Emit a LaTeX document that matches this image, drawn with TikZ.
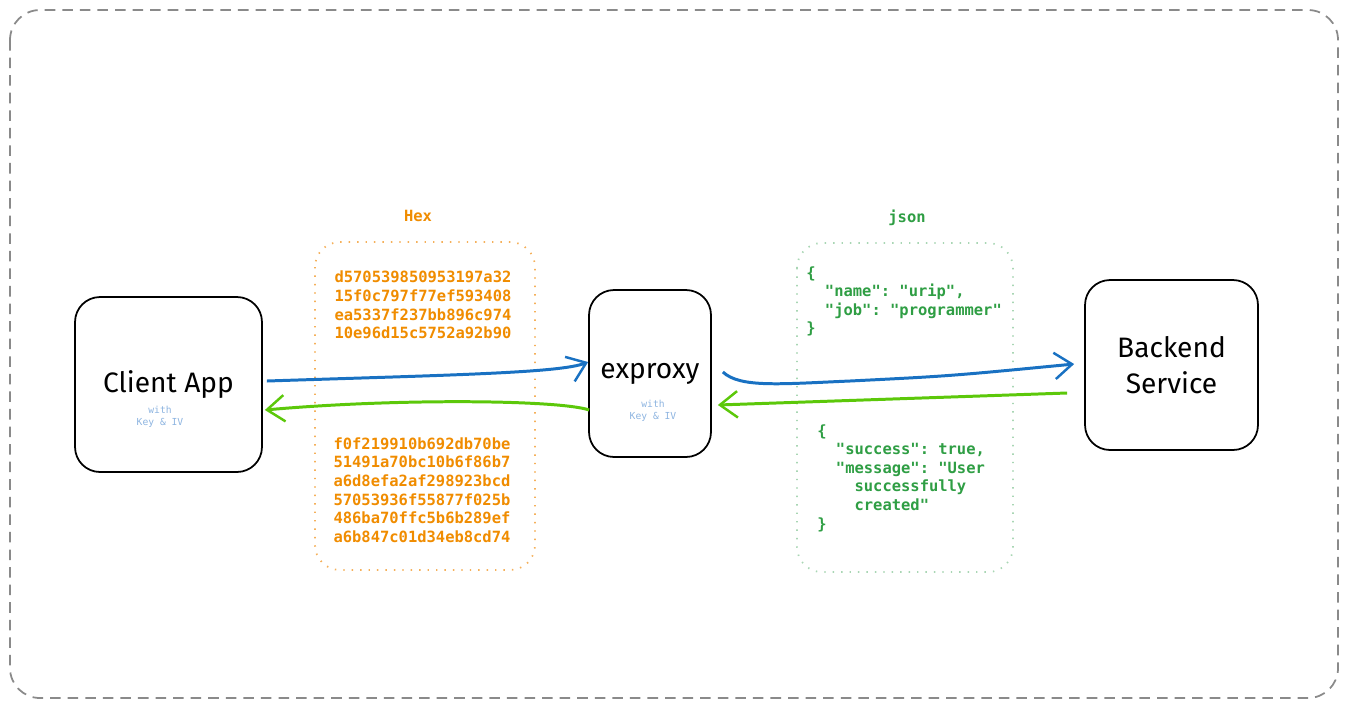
\documentclass[tikz,border=0pt]{standalone}
\usepackage{fontspec}
\setmainfont{Fira Sans}
\setmonofont{DejaVu Sans Mono}
\usepackage{xcolor}
\usepackage{tikz}
\usetikzlibrary{positioning,arrows.meta}
\definecolor{reqblue}{HTML}{1971C2}
\definecolor{resgreen}{HTML}{5CC80A}
\definecolor{hexorange}{HTML}{F08C00}
\definecolor{hexframe}{HTML}{F5B05A}
\definecolor{jsongreen}{HTML}{2F9E44}
\definecolor{jsonframe}{HTML}{A9D6B4}
\definecolor{keyblue}{HTML}{8DB4E0}
\definecolor{framegray}{HTML}{8A8A8A}

\begin{document}
\begin{tikzpicture}[x=0.02cm, y=-0.02cm,
	box/.style={rectangle, draw, line width=1pt, rounded corners=0.5cm, align=center, font=\fontsize{16}{20.5}\selectfont},
	keynote/.style={font=\ttfamily\fontsize{5.5}{7}\selectfont, text=keyblue, align=center},
	payload/.style={font=\ttfamily\bfseries\fontsize{8.8}{10.6}\selectfont, align=left, inner sep=0pt},
	frame/.style={line width=1pt, dash pattern=on 0.8pt off 4pt, rounded corners=0.5cm},
	req/.style={draw=reqblue, line width=1.7pt, -{Straight Barb[length=10pt, width=15pt, line width=1.4pt]}},
	res/.style={draw=resgreen, line width=1.7pt, -{Straight Barb[length=10pt, width=15pt, line width=1.4pt]}}]
	\useasboundingbox (0,0) rectangle (1348,708);
	\draw[framegray, line width=1pt, dash pattern=on 6pt off 4pt, rounded corners=0.6cm] (10,10) rectangle (1338,698);

	% payload frames
	\draw[frame, hexframe] (315,242) rectangle (535,570);
	\draw[frame, jsonframe] (797,243) rectangle (1013,572);
	\node[payload, text=hexorange] (hexlabel) at (418,216) {Hex};
	\node[payload, text=jsongreen] (jsonlabel) at (907,218) {json};

	% parties
	\node[box, minimum width=3.74cm, minimum height=3.5cm] (client) at (168.5,384.5) {Client App};
	\node[box, minimum width=2.44cm, minimum height=3.34cm] (proxy) at (650,373.5) {exproxy};
	\node[box, minimum width=3.46cm, minimum height=3.4cm] (backend) at (1171.5,365) {Backend\\Service};
	\node[keynote] (clientkey) at (160,417) {with\\Key \& IV};
	\node[keynote] (proxykey) at (653,411) {with\\Key \& IV};

	% payloads
	\node[payload, text=hexorange] (hexreq) at (423,305) {d570539850953197a32\\15f0c797f77ef593408\\ea5337f237bb896c974\\10e96d15c5752a92b90};
	\node[payload, text=hexorange] (hexres) at (422,490) {f0f219910b692db70be\\51491a70bc10b6f86b7\\a6d8efa2af298923bcd\\57053936f55877f025b\\486ba70ffc5b6b289ef\\a6b847c01d34eb8cd74};
	\node[payload, text=jsongreen, anchor=north west] (jsonreq) at (806,266) {\{\\\ \ "name": "urip",\\\ \ "job": "programmer"\\\}};
	\node[payload, text=jsongreen, anchor=north west] (jsonres) at (817,424) {\{\\\ \ "success": true,\\\ \ "message": "User\\\ \ \ \ successfully\\\ \ \ \ created"\\\}};

	% traffic
	\draw[req] ([xshift=0.08cm, yshift=0.07cm]client.east) .. controls (450,375) and (560,373) .. ([yshift=0.23cm]proxy.west);
	\draw[res] ([xshift=0.02cm, yshift=-0.73cm]proxy.west) .. controls (560,400) and (400,398) .. ([xshift=0.04cm, yshift=-0.51cm]client.east);
	\draw[req] ([xshift=0.22cm, yshift=0.03cm]proxy.east) .. controls (740,388) and (780,384) .. (850,381) .. controls (950,376) .. ([xshift=-0.2cm, yshift=0.02cm]backend.west);
	\draw[res] ([xshift=-0.34cm, yshift=-0.56cm]backend.west) -- ([xshift=0.12cm, yshift=-0.63cm]proxy.east);
\end{tikzpicture}
\end{document}
